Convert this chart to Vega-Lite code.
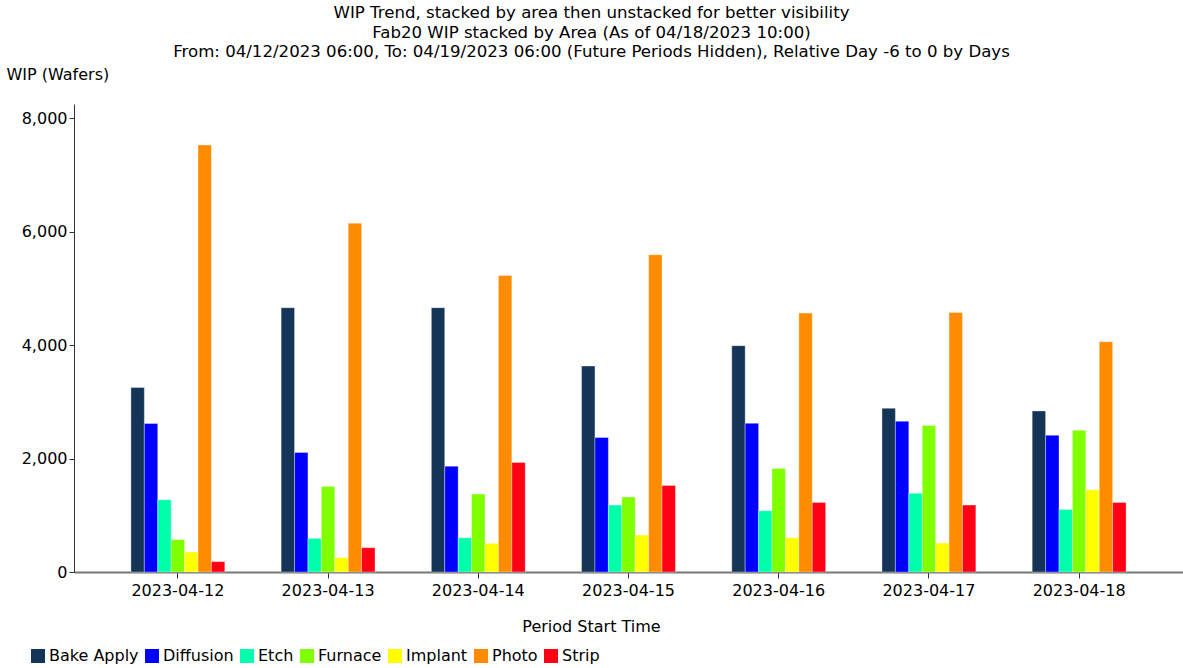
{
  "$schema": "https://vega.github.io/schema/vega-lite/v6.json",
  "width": 1109,
  "height": 468,
  "autosize": {"type": "none"},
  "padding": {"left": 74, "top": 104, "right": 0, "bottom": 96},
  "background": "white",
  "config": {
    "view": {"stroke": null},
    "font": "DejaVu Sans"
  },
  "title": {
    "text": [
      "WIP Trend, stacked by area then unstacked for better visibility",
      "Fab20 WIP stacked by Area (As of 04/18/2023 10:00)",
      "From: 04/12/2023 06:00, To: 04/19/2023 06:00 (Future Periods Hidden), Relative Day -6 to 0 by Days"
    ],
    "font": "DejaVu Sans",
    "fontSize": 16.6,
    "fontWeight": "normal",
    "color": "black",
    "lineHeight": 19.5,
    "anchor": "middle",
    "frame": "group",
    "dx": -37,
    "dy": 5,
    "offset": 10
  },
  "data": {
    "values": [
      {"date": "2023-04-12", "area": "Bake Apply", "wip": 3251},
      {"date": "2023-04-12", "area": "Diffusion", "wip": 2617},
      {"date": "2023-04-12", "area": "Etch", "wip": 1274},
      {"date": "2023-04-12", "area": "Furnace", "wip": 570},
      {"date": "2023-04-12", "area": "Implant", "wip": 352},
      {"date": "2023-04-12", "area": "Photo", "wip": 7528},
      {"date": "2023-04-12", "area": "Strip", "wip": 183},
      {"date": "2023-04-13", "area": "Bake Apply", "wip": 4659},
      {"date": "2023-04-13", "area": "Diffusion", "wip": 2107},
      {"date": "2023-04-13", "area": "Etch", "wip": 593},
      {"date": "2023-04-13", "area": "Furnace", "wip": 1508},
      {"date": "2023-04-13", "area": "Implant", "wip": 253},
      {"date": "2023-04-13", "area": "Photo", "wip": 6150},
      {"date": "2023-04-13", "area": "Strip", "wip": 429},
      {"date": "2023-04-14", "area": "Bake Apply", "wip": 4659},
      {"date": "2023-04-14", "area": "Diffusion", "wip": 1866},
      {"date": "2023-04-14", "area": "Etch", "wip": 604},
      {"date": "2023-04-14", "area": "Furnace", "wip": 1373},
      {"date": "2023-04-14", "area": "Implant", "wip": 505},
      {"date": "2023-04-14", "area": "Photo", "wip": 5227},
      {"date": "2023-04-14", "area": "Strip", "wip": 1931},
      {"date": "2023-04-15", "area": "Bake Apply", "wip": 3631},
      {"date": "2023-04-15", "area": "Diffusion", "wip": 2371},
      {"date": "2023-04-15", "area": "Etch", "wip": 1179},
      {"date": "2023-04-15", "area": "Furnace", "wip": 1320},
      {"date": "2023-04-15", "area": "Implant", "wip": 651},
      {"date": "2023-04-15", "area": "Photo", "wip": 5592},
      {"date": "2023-04-15", "area": "Strip", "wip": 1526},
      {"date": "2023-04-16", "area": "Bake Apply", "wip": 3990},
      {"date": "2023-04-16", "area": "Diffusion", "wip": 2622},
      {"date": "2023-04-16", "area": "Etch", "wip": 1079},
      {"date": "2023-04-16", "area": "Furnace", "wip": 1825},
      {"date": "2023-04-16", "area": "Implant", "wip": 604},
      {"date": "2023-04-16", "area": "Photo", "wip": 4564},
      {"date": "2023-04-16", "area": "Strip", "wip": 1227},
      {"date": "2023-04-17", "area": "Bake Apply", "wip": 2886},
      {"date": "2023-04-17", "area": "Diffusion", "wip": 2658},
      {"date": "2023-04-17", "area": "Etch", "wip": 1390},
      {"date": "2023-04-17", "area": "Furnace", "wip": 2582},
      {"date": "2023-04-17", "area": "Implant", "wip": 510},
      {"date": "2023-04-17", "area": "Photo", "wip": 4576},
      {"date": "2023-04-17", "area": "Strip", "wip": 1179},
      {"date": "2023-04-18", "area": "Bake Apply", "wip": 2839},
      {"date": "2023-04-18", "area": "Diffusion", "wip": 2411},
      {"date": "2023-04-18", "area": "Etch", "wip": 1103},
      {"date": "2023-04-18", "area": "Furnace", "wip": 2499},
      {"date": "2023-04-18", "area": "Implant", "wip": 1449},
      {"date": "2023-04-18", "area": "Photo", "wip": 4060},
      {"date": "2023-04-18", "area": "Strip", "wip": 1227}
    ]
  },
  "mark": {"type": "bar", "stroke": "white", "strokeOpacity": 0.35, "strokeWidth": 1},
  "encoding": {
    "x": {
      "field": "date",
      "type": "nominal",
      "scale": {"paddingInner": 0.375, "paddingOuter": 0.379},
      "axis": {
        "title": "Period Start Time",
        "labelAngle": 0,
        "labelFontSize": 16,
        "labelColor": "black",
        "labelPadding": 4,
        "titleFontSize": 16,
        "titleFontWeight": "normal",
        "titleColor": "black",
        "titleX": 517,
        "titleY": 54,
        "titleBaseline": "middle",
        "domainColor": "#777777",
        "domainWidth": 2,
        "tickColor": "#333333",
        "tickSize": 6,
        "grid": false
      }
    },
    "xOffset": {
      "field": "area",
      "type": "nominal",
      "scale": {"paddingInner": 0, "paddingOuter": 0}
    },
    "y": {
      "field": "wip",
      "type": "quantitative",
      "scale": {"domain": [0, 8250], "nice": false},
      "axis": {
        "title": "WIP (Wafers)",
        "titleAngle": 0,
        "titleAlign": "left",
        "titleBaseline": "middle",
        "titleX": -68,
        "titleY": -30,
        "titleFontSize": 16,
        "titleFontWeight": "normal",
        "titleColor": "black",
        "values": [0, 2000, 4000, 6000, 8000],
        "format": ",.0f",
        "labelFontSize": 16,
        "labelColor": "black",
        "labelPadding": 2,
        "domainColor": "#333333",
        "tickColor": "#333333",
        "tickSize": 5,
        "grid": false
      }
    },
    "color": {
      "field": "area",
      "type": "nominal",
      "scale": {
        "domain": ["Bake Apply", "Diffusion", "Etch", "Furnace", "Implant", "Photo", "Strip"],
        "range": ["#143557", "#0000FF", "#00FFAA", "#7FFF00", "#FFFF00", "#FF8C00", "#FF0015"]
      },
      "legend": {
        "title": null,
        "orient": "none",
        "direction": "horizontal",
        "legendX": -44,
        "legendY": 544,
        "symbolType": "square",
        "symbolSize": 196,
        "symbolStrokeWidth": 0,
        "symbolOpacity": 1,
        "labelFontSize": 16,
        "labelColor": "black",
        "labelOffset": 3,
        "columnPadding": 5
      }
    }
  }
}
